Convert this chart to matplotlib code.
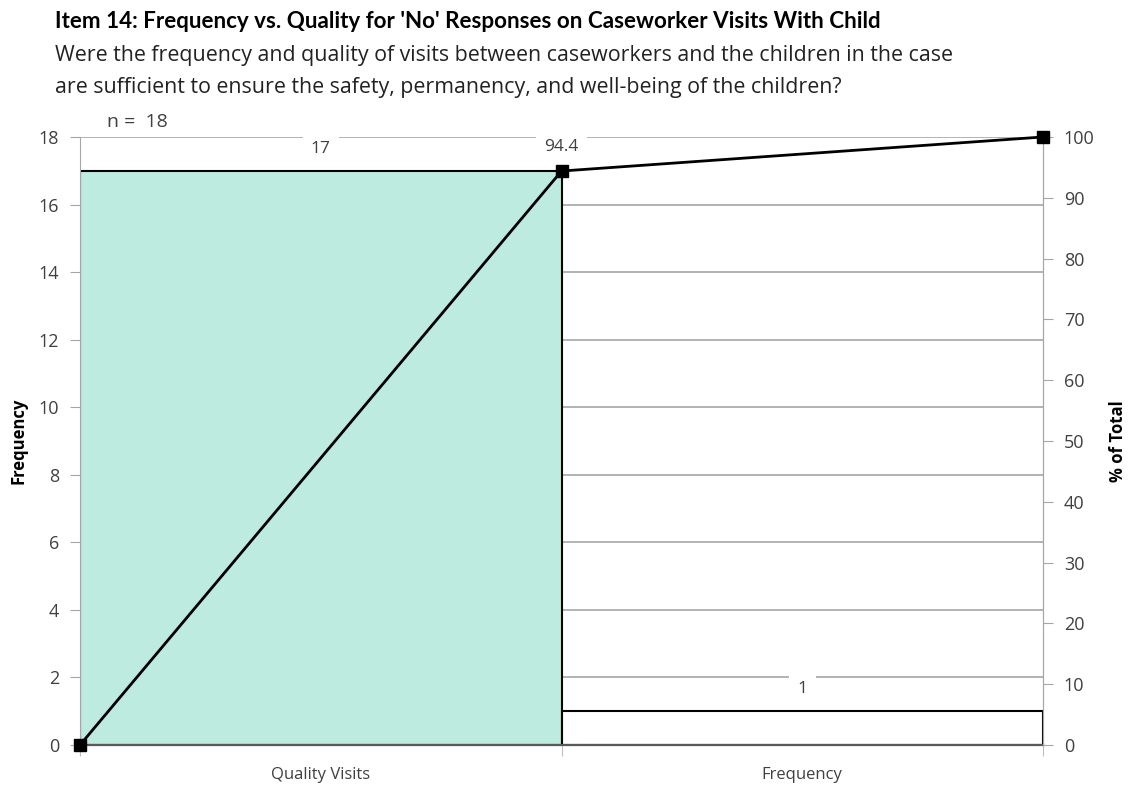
"""Pareto chart: frequency vs. quality for 'No' responses, item 14."""

import matplotlib

matplotlib.use("Agg")
import matplotlib.pyplot as plt

categories = ["Quality Visits", "Frequency"]
counts = [17, 1]
cum_pct = [0, 94.4, 100]
cum_labels = ["", "94.4", ""]
n_total = 18

TITLE = "Item 14: Frequency vs. Quality for 'No' Responses on Caseworker Visits With Child"
SUBTITLE = (
    "Were the frequency and quality of visits between caseworkers and the children in the case\n"
    "are sufficient to ensure the safety, permanency, and well-being of the children?"
)

TEAL = "#BDEBE0"
GRID = "#A6A6A6"
TEXT = "#404040"

plt.rcParams["font.family"] = ["Open Sans", "DejaVu Sans"]

fig = plt.figure(figsize=(11.29, 7.85), dpi=100)
ax = fig.add_axes([0.0709, 0.051, 0.8529, 0.7745])

xs = [i + 0.5 for i in range(len(categories))]
colors = [TEAL] + ["white"] * (len(categories) - 1)
ax.bar(xs, counts, width=1.0, color=colors, edgecolor="black", linewidth=1.5, zorder=2)

ax.set_xlim(0, len(categories))
ax.set_ylim(0, 18)
ax.set_yticks(range(0, 19, 2))
ax.yaxis.grid(True, color=GRID, linewidth=1.2, zorder=0)
ax.set_axisbelow(True)
ax.set_xticks(range(len(categories) + 1))
ax.set_xticklabels([])
ax.set_xticks(xs, minor=True)
ax.set_xticklabels(categories, minor=True)
ax.tick_params(axis="x", which="minor", length=0, pad=16, labelsize=12, labelcolor=TEXT)
ax.tick_params(axis="x", which="major", length=8, color="#BFBFBF", direction="out")
ax.tick_params(axis="y", length=7, color=GRID, labelsize=13, labelcolor=TEXT, pad=8)

ax.spines["top"].set_visible(False)
ax.spines["left"].set_color(GRID)
ax.spines["right"].set_color(GRID)
ax.spines["bottom"].set_color("#595959")
ax.spines["bottom"].set_linewidth(1.6)

for x, c in zip(xs, counts):
    ax.text(x, c + 0.65, str(c), ha="center", va="center", fontsize=12.5, color=TEXT,
            bbox=dict(facecolor="white", edgecolor="none", pad=6), zorder=4)

ax2 = ax.twinx()
ax2.set_ylim(0, 100)
ax2.set_yticks(range(0, 101, 10))
ax2.tick_params(axis="y", length=7, color=GRID, labelsize=13, labelcolor=TEXT, pad=8)
for side in ["top", "left", "bottom"]:
    ax2.spines[side].set_visible(False)
ax2.spines["right"].set_color(GRID)
ax2.plot(range(len(cum_pct)), cum_pct, color="black", linewidth=2, marker="s",
         markersize=9, clip_on=False, zorder=5)
for x, p, lab in zip(range(len(cum_pct)), cum_pct, cum_labels):
    if lab:
        ax2.text(x, p + 3.9, lab, ha="center", va="center", fontsize=12.5, color=TEXT,
                 bbox=dict(facecolor="white", edgecolor="none", pad=6), zorder=4)

fig.text(0.016, 0.438, "Frequency", fontsize=12, fontweight="bold", rotation=90,
         ha="center", va="center")
fig.text(0.990, 0.438, "% of Total", fontsize=12, fontweight="bold", rotation=90,
         ha="center", va="center")

fig.text(0.095, 0.845, f"n =  {n_total}", fontsize=14, color=TEXT, va="center")
fig.text(0.0487, 0.973, TITLE, fontsize=16.1, fontweight="bold", va="center",
         family=["Lato", "DejaVu Sans"])
fig.text(0.0487, 0.909, SUBTITLE, fontsize=15.4, va="center", color="#222222",
         linespacing=1.65)

fig.savefig("out.png", dpi=100)
